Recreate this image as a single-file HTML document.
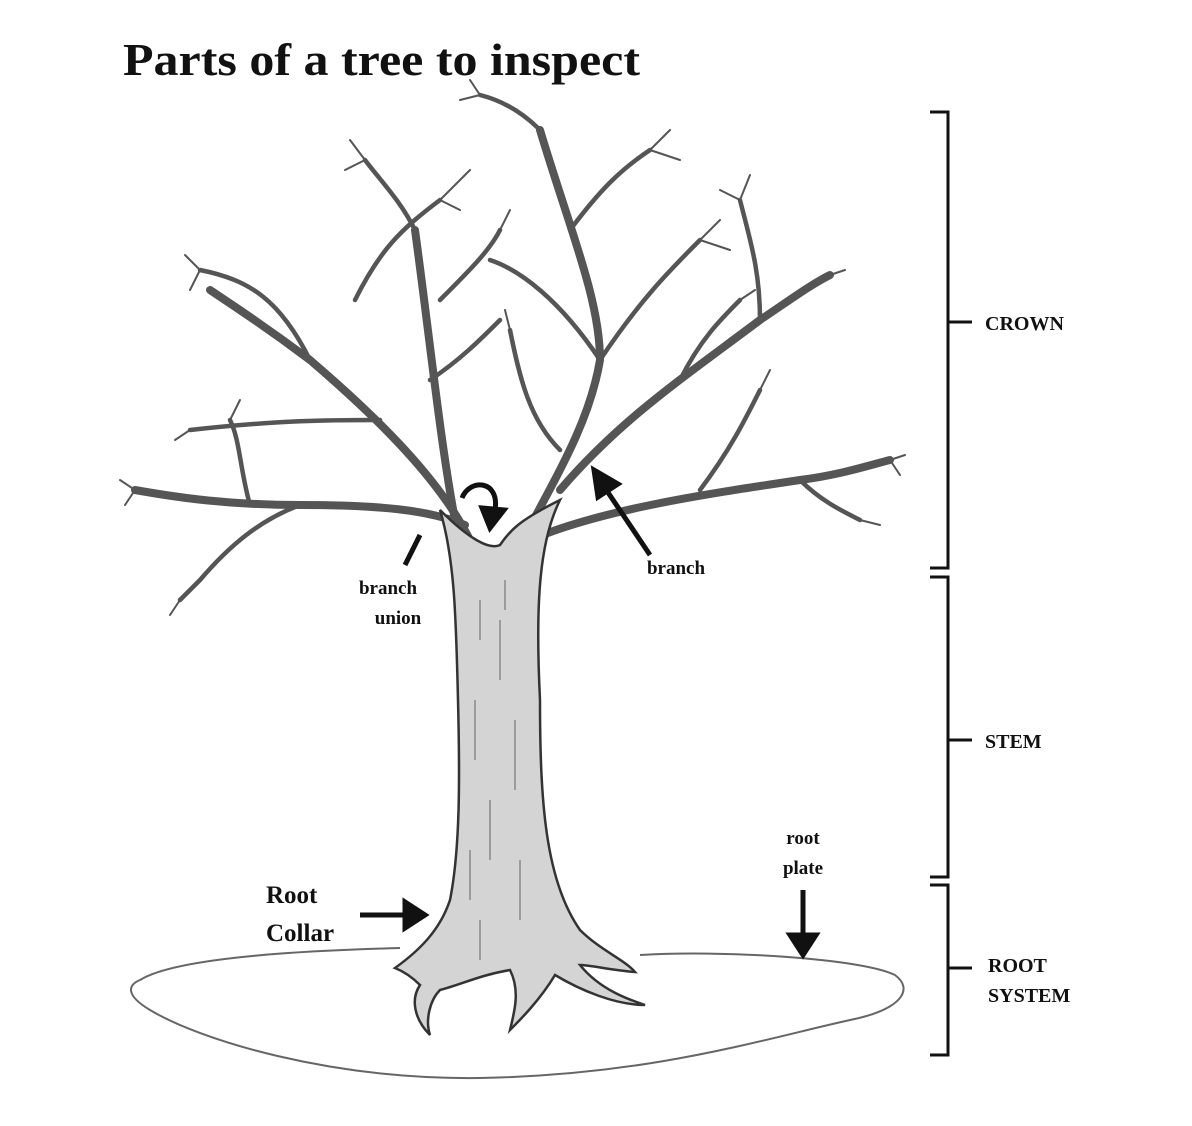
<!DOCTYPE html>
<html><head><meta charset="utf-8"><style>
html,body{margin:0;padding:0;background:#fff;}
svg{display:block;}
text{font-family:"Liberation Serif",serif;font-weight:bold;fill:#111;}
</style></head><body>
<svg width="1192" height="1126" viewBox="0 0 1192 1126" xmlns="http://www.w3.org/2000/svg">
<text x="123" y="75" font-size="46" textLength="517" lengthAdjust="spacingAndGlyphs">Parts of a tree to inspect</text>
<!-- ground -->
<path d="M140 980 C180 955 330 950 400 948 M640 955 C720 950 860 958 895 975 C915 990 900 1010 850 1020 C760 1040 650 1075 480 1078 C330 1080 200 1040 150 1010 C125 995 128 985 140 980" fill="none" stroke="#666" stroke-width="2"/>
<!-- brackets -->
<g stroke="#111" stroke-width="3" fill="none">
<path d="M930 112 H948 V568 H930"/><path d="M948 322 H972"/>
<path d="M930 577 H948 V877 H930"/><path d="M948 740 H972"/>
<path d="M930 885 H948 V1055 H930"/><path d="M948 968 H972"/>
</g>
<text x="985" y="330" font-size="20">CROWN</text>
<text x="985" y="748" font-size="20">STEM</text>
<text x="988" y="972" font-size="20">ROOT</text>
<text x="988" y="1002" font-size="20">SYSTEM</text>
<!-- branches -->
<g stroke="#555" fill="none" stroke-linecap="round">
<g stroke-width="8">
<path d="M470 540 C440 480 380 420 310 360 C270 330 240 310 210 290"/>
<path d="M465 525 C430 510 380 505 300 505 C230 505 180 498 135 490"/>
<path d="M455 520 C440 440 430 340 415 230"/>
<path d="M520 545 C560 470 590 420 600 360 C600 300 570 230 540 130"/>
<path d="M530 540 C600 510 700 495 800 480 C840 475 870 465 890 460"/>
<path d="M560 490 C620 420 680 380 760 320 C790 300 810 285 830 275"/>
</g>
<g stroke-width="4.5">
<path d="M355 300 C380 250 400 230 440 200"/>
<path d="M310 360 C280 300 250 280 200 270"/>
<path d="M300 505 C260 520 230 545 200 580"/>
<path d="M250 505 C240 470 240 440 230 420"/>
<path d="M600 360 C640 300 670 270 700 240"/>
<path d="M600 360 C560 300 520 270 490 260"/>
<path d="M540 130 C520 110 500 100 480 95"/>
<path d="M570 230 C600 190 620 170 650 150"/>
<path d="M415 230 C400 200 380 180 365 160"/>
<path d="M760 320 C760 270 750 240 740 200"/>
<path d="M700 490 C730 450 745 420 760 390"/>
<path d="M800 480 C820 500 840 510 860 520"/>
<path d="M440 300 C470 270 490 250 500 230"/>
<path d="M430 380 C460 360 480 340 500 320"/>
<path d="M380 420 C330 420 280 420 190 430"/>
<path d="M560 450 C530 420 520 380 510 330"/>
<path d="M680 380 C700 340 720 320 740 300"/>
<path d="M200 580 L180 600"/>
</g>
<g stroke-width="2">
<path d="M440 200 L470 170 M440 200 L460 210 M200 270 L185 255 M200 270 L190 290 M135 490 L120 480 M135 490 L125 505 M700 240 L720 220 M700 240 L730 250 M650 150 L670 130 M650 150 L680 160 M480 95 L470 80 M480 95 L460 100 M365 160 L350 140 M365 160 L345 170 M740 200 L750 175 M740 200 L720 190 M890 460 L905 455 M890 460 L900 475 M860 520 L880 525 M760 390 L770 370 M830 275 L845 270 M500 230 L510 210 M510 330 L505 310 M740 300 L755 290 M190 430 L175 440 M230 420 L240 400 M180 600 L170 615"/>
</g>
</g>
<!-- trunk -->
<path d="M440 510 C470 540 490 550 500 545 C510 530 520 520 560 500 C540 540 535 600 540 700 C540 800 545 880 580 930 C600 950 625 960 635 972 C610 970 590 965 580 965 C600 990 630 1000 645 1005 C615 1005 580 990 555 975 C540 1000 520 1020 510 1030 C515 1010 520 990 510 970 C480 975 460 985 440 990 C430 1000 425 1020 430 1035 C415 1020 410 1000 420 985 C410 975 400 970 395 968 C420 950 440 930 450 900 C460 850 460 780 458 700 C456 620 455 560 440 510 Z" fill="#d4d4d4" stroke="#333" stroke-width="2.5"/>
<g stroke="#888" stroke-width="1.5">
<path d="M480 600 V640 M500 620 V680 M475 700 V760 M515 720 V790 M490 800 V860 M470 850 V900 M520 860 V920 M505 580 V610 M480 920 V960"/>
</g>
<!-- arrows -->
<g stroke="#111" stroke-width="5" fill="#111">
<path d="M360 915 H410" fill="none"/><path d="M425 915 L405 902 L405 928 Z"/>
<path d="M803 890 V940" fill="none"/><path d="M803 955 L790 935 L816 935 Z"/>
<path d="M650 555 L605 488" fill="none"/><path d="M594 470 L598 497 L618 484 Z"/>
<path d="M405 565 L420 535" fill="none"/>
<path d="M462 498 C470 478 500 480 495 510" fill="none"/><path d="M490 528 L482 508 L504 510 Z"/>
</g>
<text x="388" y="594" font-size="19" text-anchor="middle">branch</text>
<text x="398" y="624" font-size="19" text-anchor="middle">union</text>
<text x="676" y="574" font-size="19" text-anchor="middle">branch</text>
<text x="803" y="844" font-size="19" text-anchor="middle">root</text>
<text x="803" y="874" font-size="19" text-anchor="middle">plate</text>
<text x="266" y="903" font-size="25">Root</text>
<text x="266" y="941" font-size="25">Collar</text>
</svg>
</body></html>
